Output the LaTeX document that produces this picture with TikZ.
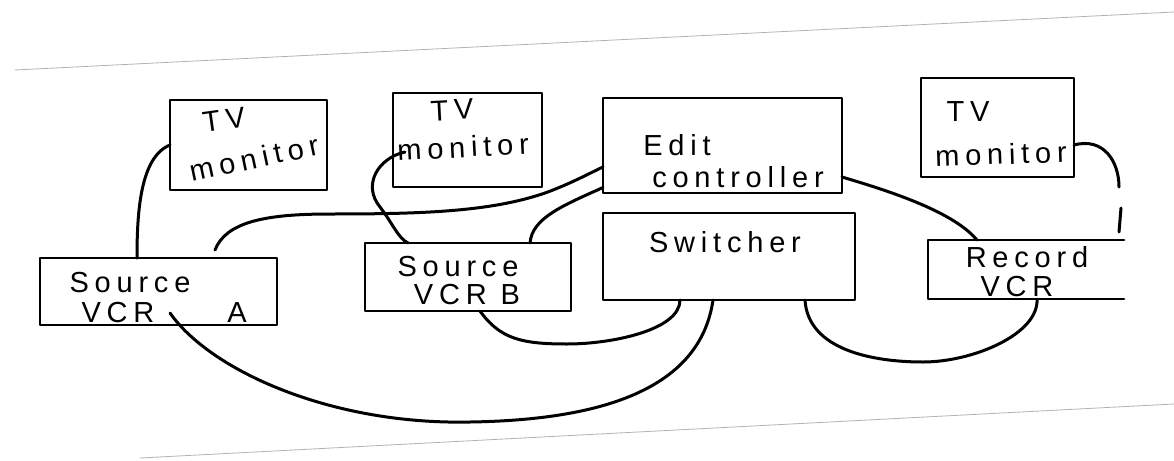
\documentclass[tikz,border=0pt]{standalone}
\usepackage{fontspec}
\newfontfamily\handfont[LetterSpace=20]{Liberation Sans}
\begin{document}
\begin{tikzpicture}[x=1pt,y=-1pt, line cap=round, line join=round,
  box/.style={draw, line width=2.8pt, inner sep=0pt, outer sep=0pt},
  wire/.style={draw, line width=3pt},
  lbl/.style={inner sep=0pt, font=\handfont\fontsize{29}{31}\selectfont},
  paperedge/.style={draw=black!30, line width=0.8pt}]
\useasboundingbox (0,0) rectangle (1174,460);
\fill[white] (0,0) rectangle (1174,460);
% paper edges of the scan
\draw[paperedge] (15,70) -- (1174,12);
\draw[paperedge] (140,458) -- (1174,404);
% boxes
\node[box, minimum width=157pt, minimum height=90pt] (mon1) at (248.5,145) {};
\node[box, minimum width=149pt, minimum height=94pt] (mon2) at (467.5,140) {};
\node[box, minimum width=239pt, minimum height=95pt] (edit) at (722.5,145.5) {};
\node[box, minimum width=153pt, minimum height=99pt] (mon3) at (997.5,127.5) {};
\node[box, minimum width=237pt, minimum height=67pt] (vcrA) at (158.5,291.5) {};
\node[box, minimum width=206pt, minimum height=68pt] (vcrB) at (468,277) {};
\node[box, minimum width=252pt, minimum height=87pt] (swt) at (729,256.5) {};
\node[inner sep=0pt, outer sep=0pt, minimum width=196pt, minimum height=59pt] (record) at (1026,269.5) {};
\draw[line width=2.8pt] (record.north east) -- (record.north west) -- (record.south west) -- (record.south east);
% labels
\node[lbl, rotate=8] (t1a) at (224,120) {TV};
\node[lbl, rotate=12] (t1b) at (254,158) {monitor};
\node[lbl, rotate=3] (t2a) at (452,110) {TV};
\node[lbl, rotate=3] (t2b) at (463,147) {monitor};
\node[lbl] (te1) at (677,145) {Edit};
\node[lbl] (te2) at (738,177) {controller};
\node[lbl] (t3a) at (968,112) {TV};
\node[lbl, rotate=2] (t3b) at (1001,154) {monitor};
\node[lbl] (ta1) at (130,283) {Source};
\node[lbl] (ta2) at (118,313) {VCR};
\node[lbl] (ta3) at (237,313) {A};
\node[lbl] (tb1) at (458,267) {Source};
\node[lbl] (tb2) at (467,295) {VCR B};
\node[lbl] (ts) at (725,242) {Switcher};
\node[lbl] (tr1) at (1027,257) {Record};
\node[lbl] (tr2) at (1017,287) {VCR};
% connectors
\draw[wire] (mon1.west) .. controls +(-30,12) and +(0,-45) .. ([xshift=-21.5pt]vcrA.north);
\draw[wire] ([xshift=56.5pt,yshift=8pt]vcrA.north) .. controls +(11,-28) and +(-65,0) .. (330,214)
  .. controls +(90,0) and +(-55,19) .. (545,193)
  .. controls +(25,-9) and +(-13,6) .. ([yshift=-21.5pt]edit.west);
\draw[wire] ([xshift=62pt]vcrB.north) .. controls +(2,-25) and +(-40,18) .. ([yshift=-42pt]edit.west);
\draw[wire] ([xshift=12pt,yshift=-12pt]mon2.west) .. controls (378,158) and (362,185) .. (380,207)
  .. controls (393,224) and (398,238) .. ([xshift=-60pt]vcrB.north);
\draw[wire] ([xshift=12pt]vcrB.south) .. controls +(20,28) and +(-45,0) .. (567,344)
  .. controls +(45,0) and +(0,30) .. ([xshift=-49pt]swt.south);
\draw[wire] ([xshift=11.5pt,yshift=-21.5pt]vcrA.center) .. controls +(40,57) and +(-140,3) .. (470,422)
  .. controls +(130,-2) and +(-13,90) .. ([xshift=-16pt]swt.south);
\draw[wire] ([xshift=76pt]swt.south) .. controls +(3,50) and +(-50,0) .. (923,362)
  .. controls +(50,0) and +(2,35) .. ([xshift=11pt]record.south);
\draw[wire] ([yshift=-31.5pt]edit.east) .. controls +(40,12) and +(-25,-30) .. ([xshift=-49pt]record.north);
\coordinate (gapA) at (1119,187);
\coordinate (gapB) at (1121,208);
\draw[wire] ([yshift=-17.5pt]mon3.east) .. controls +(30,-8) and +(0,-25) .. (gapA);
\draw[wire] (gapB) -- ([xshift=93pt,yshift=8pt]record.north);
\end{tikzpicture}
\end{document}
